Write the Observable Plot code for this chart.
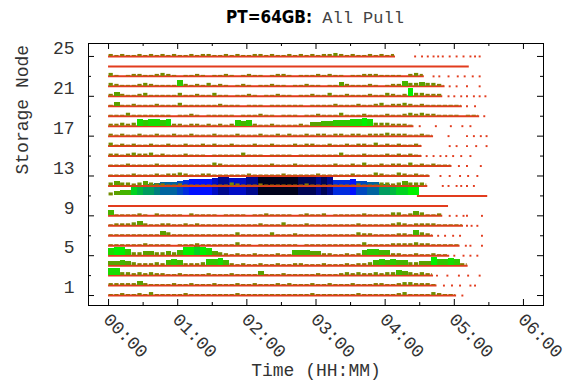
<!DOCTYPE html>
<html><head><meta charset="utf-8">
<script src="https://cdn.jsdelivr.net/npm/d3@7"></script>
<script src="https://cdn.jsdelivr.net/npm/@observablehq/plot@0.6"></script>
<style>
html,body{margin:0;padding:0;background:#fff;overflow:hidden;}
#title{height:30px;width:576px;box-sizing:border-box;padding-left:54px;text-align:center;line-height:34px;white-space:pre;}
#title .a{font-family:"Liberation Sans Narrow","DejaVu Sans Condensed",sans-serif;font-weight:bold;font-size:17px;color:#000;}
#title .b{font-family:"Liberation Mono",monospace;font-size:17px;color:#444;}
</style></head><body>
<div id="title"><span class="a">PT=64GB:</span><span class="b"> All Pull</span></div>
<div id="chart"></div>
<script>
// activity height per node, one value per 5-minute slot (tenths of a row)
const n25 = [2,1,2,1,1,2,1,2,1,2, 1,2,1,1,2,1,2,2,1,1, 2,1,2,1,1,2,2,1,2,1, 1,2,1,2,1,2,1,2,2,3, 2,1,2,1,1,2,1,2,1,2];
const n24 = [];
const n23 = [3,1,0,1,2,2,1,1,2,3, 2,1,0,1,1,2,1,0,1,1, 2,1,0,1,2,1,1,0,1,2, 2,1,0,1,1,1,2,1,2,1, 1,0,1,1,2,2,2,1,1,1, 1,0,2,3,2];
const n22 = [3,2,1,1,1,2,3,2,1,1, 1,1,6,2,1,2,1,3,1,2, 1,0,1,2,1,0,1,1,2,1, 1,0,1,1,2,1,1,0,1,1, 4,2,1,1,1,2,1,0,1,2, 2,5,3,3,4,3,3,2,1];
const n21 = [2,4,2,1,1,2,3,1,1,1, 1,1,3,1,1,2,1,1,3,1, 1,0,1,1,2,1,0,1,1,2, 1,1,0,1,1,2,1,1,3,1, 1,2,1,1,1,2,1,1,3,2, 1,2,8,3,3,2,2,2];
const n20 = [1,4,1,1,2,1,1,1,2,1, 1,1,3,1,1,1,1,1,1,2, 1,1,1,0,1,1,1,0,1,1, 1,1,1,1,0,1,1,1,1,2, 1,1,1,2,1,1,2,3,1,2, 2,3,2,1,2,1,1,1,1,1, 1,1];
const n19 = [1,1,1,3,1,1,1,1,1,1, 1,0,1,1,2,1,0,1,1,1, 1,1,0,1,1,1,2,1,1,0, 1,1,1,0,1,1,2,1,1,1, 3,1,1,1,2,1,1,1,2,1, 1,2,3,2,3,2,2,1,1,1, 1,0,1,1,1];
const n18 = [2,2,3,2,3, 7,6,7,7,6,7, 2,2,1,2,2,1,2,1,2,1,2, 6,5,6, 2,1,1,2,1,1,1,1,2,1, 4,4,5,5, 6,6,6,7,7,8,7, 3,3,3,2,2,2,1];
const n17 = [2,1,2,1,1,2,1,1,2,1, 1,2,1,1,2,1,1,1,2,1, 1,1,2,1,1,1,2,1,1,2, 1,2,1,1,2,1,2,2,1,2, 2,1,2,2,1,2,2,2,3,2, 2,2,1,1,2,1,1];
const n16 = [3,1,2,1,2,1,1,2,1,1, 2,1,1,2,1,1,2,1,2,1, 1,2,1,1,1,2,1,1,2,1, 1,1,2,1,2,2,1,1,2,1, 1,2,1,2,2,1,3,1,2,1, 2,1,1,2,1];
const n15 = [2,2,1,2,3,2,2,3,1,2, 1,1,1,2,1,1,1,0,1,1, 1,1,1,3,1,1,1,0,1,1, 1,1,0,1,1,1,1,1,1,1, 3,1,1,1,2,1,1,1,2,1, 2,1,2,1,1];
const n14 = [1,1,1,2,1,1,1,1,2,1, 1,1,1,1,1,1,1,1,3,2, 1,1,1,1,1,1,1,1,2,1, 1,1,2,1,1,1,1,1,1,2, 1,1,2,1,3,1,1,2,1,2, 2,1,3,1,2,1,2,1,1,1];
const n13 = [1,1,1,1,2,1,1,1,2,1, 2,2,3,2,1,1,2,2,1,1, 1,1,1,1,2,1,1,1,1,1, 2,1,1,1,1,1,2,1,1,1, 1,1,2,1,1,1,3,2,1,1, 3,2,1,2,1,1];
const n12 = [3,4,3,3,2,3,4,3,2,2, 1,1,2,1,1,1,1,1,1,1, 1,3,2,1,1,1,2,1,1,1, 1,1,1,1,2,1,1,1,1,1, 1,1,1,2,1,1,1,3,3,2, 3,4,3,3,3,2];
const n11 = [3,4,5,5, 9, 10, 11,11, 12,13,13,13,14, 15,16,16,16,16,17, 18,18, 17,17,17,18,18, 20,20,20,20,20,20,20, 19,19,19,18,19,18, 15,15,15,16, 14,14,13,13, 11,11,10, 9,9,8,8];
const n10 = [];
const n9  = [5,1,1,1,1,2,1,0,2,1, 1,1,1,0,2,1,1,1,1,0, 1,1,1,1,0,1,1,2,1,1, 1,1,0,1,2,1,1,2,0,1, 1,1,1,1,2,1,1,1,1,3, 3,1,2,4,3,1,1,2];
const n8  = [1,2,2,2,3,4,2,1,1,2, 2,1,1,2,1,2,1,1,1,1, 1,1,1,1,1,1,2,1,1,1, 3,1,1,1,2,1,1,1,1,1, 1,1,1,2,1,1,1,1,1,2, 3,2,1,2,2,2,2,1,1,1, 1,1];
const n7  = [1,1,1,1,1,1,1,1,1,4, 3,1,1,1,1,1,1,1,1,1, 1,1,3,1,1,1,1,1,3,1, 1,1,2,1,1,1,1,1,1,1, 1,1,1,3,2,2,1,1,1,1, 2,2,1,5,3,2,1];
const n6  = [1,1,1,1,1,1,2,1,1,1, 1,0,1,1,1,2,1,1,1,1, 1,1,3,1,1,0,1,1,1,1, 1,1,1,0,1,1,1,1,1,1, 1,1,1,1,3,1,1,1,1,2, 2,2,2,3,2,2,1,1,1,1, 1];
const n5  = [7,8,8,6, 3,3,4,4,3,3,4,3,5, 8,8,9,8,7, 4,3, 2,1,2,1,1,2,1,1,1,2,1,1, 5,5,5,4,4, 2,2,1,1,2,1,2, 5,6,6,5,5, 2,2,1,1,2,1,1,2,1,1,1];
const n4  = [4,4,5,4,3, 2,2,2,3,2, 5,6,5, 2,2,2,3, 6,6,7,5, 2,1,2,1,1,2,1,1,2,1,1,2,2,1,1,1,2,1,1,1,2,1,2,2,3, 5,6,5,6,5,5, 3,3,4,4, 8,6,6,7,6, 2,2];
const n3  = [7,7, 3,3,2,3,2,3,2,2, 1,1,2,1,1,1,1,2,1,1,1,2,1,1,1,1, 4, 1,1,1,2,1,1,1,1,1,2,1,1,1, 2,3,2,3,2,2,3,2,3,3, 5,4, 3,2,3,2,2];
const n2  = [2,2,2,2,2,4,2,1,1,1, 1,2,1,1,2,1,1,1,2,1, 1,1,2,1,1,2,1,1,1,2, 1,2,1,1,1,2,1,1,2,1, 1,1,2,1,1,1,2,2,1,1, 2,3,3,2,2,2,1];
const n1  = [1,1,2,1,1,2,1,3,1,1, 1,1,1,2,1,1,1,1,1,1, 1,1,2,1,1,1,1,1,1,1, 1,1,1,1,1,2,1,1,1,1, 1,1,1,2,1,1,1,1,1,1, 2,3,1,1,1,1,3,2,1,1,1];

// per node 1..25: baseline line start / end (minutes) and trailing sparse samples
const lineStart = [0,0,0,0,0,0,0,0,0,0,268,0,0,0,0,0,0,0,0,0,0,0,0,0,0];
const lineEnd   = [302,285,282,312,296,305,282,308,290,295,329,277,279,298,272,272,282,265,322,307,290,292,274,313,249];
const tailDots = [
  [307],
  [291,298,305,314,318],
  [285,294,304,312,322],
  [],
  [300,308,314,320],
  [310,314,324],
  [286,292,299,305,324],
  [311,315,320],
  [296,302,308,311,324],
  [],
  [],
  [290,295,302,306,311,317],
  [288,296,305,312,320],
  [304,311,323],
  [276,282,288,293,299,306,314],
  [296,302,311,319,328],
  [295,311,317,323,328],
  [270,284,297,307,314],
  [326],
  [311,318],
  [295,300,306,311,317,322,327],
  [296,302,311,322],
  [282,287,295,303,309,316,322],
  [],
  [266,272,277,282,286,290,296,302,308,314,318,322]
];
const activity = [n1,n2,n3,n4,n5,n6,n7,n8,n9,n10,n11,n12,n13,n14,n15,n16,n17,n18,n19,n20,n21,n22,n23,n24,n25];
const STEP = 5;
const xMajor = [0,60,120,180,240,300,360];
const xMinor = [30,90,150,210,270,330];
const yMajor = [1,5,9,13,17,21,25];
const yMinor = [3,7,11,15,19,23];

const RED = "#e23c1e";
const FONT = "Liberation Mono, monospace";
const W = 576, H = 359, ML = 88, MR = 33, MT = 13, MB = 84;
const FW = W - ML - MR, FH = H - MT - MB;

const marks = [];
activity.forEach((vals, k) => {
  const n = k + 1;
  const areaEnd = n === 11 ? vals.length * STEP : lineEnd[k];
  const bars = vals.map((v, i) => ({x1: i * STEP, x2: Math.min(i * STEP + STEP, areaEnd), y1: n, y2: n + v / 10, h: v / 10}))
                   .filter(d => d.h > 0 && d.x2 > d.x1);
  const small = bars.filter(d => d.h <= 0.3), big = bars.filter(d => d.h > 0.3);
  marks.push(Plot.ruleY([{n, s: lineStart[k], e: lineEnd[k]}], {y: "n", x1: "s", x2: "e", stroke: RED, strokeWidth: 2}));
  marks.push(Plot.rect(small, {x1: "x1", x2: "x2", y1: "y1", y2: "y2", fill: "h", insetLeft: 0.5, insetRight: 1}));
  marks.push(Plot.rect(big, {x1: "x1", x2: "x2", y1: "y1", y2: "y2", fill: "h", shapeRendering: "crispEdges"}));
  marks.push(Plot.dot(tailDots[k].map(t => ({t, n})), {x: "t", y: "n", symbol: "square", r: 1.1, fill: RED, stroke: "none"}));
});

const chart = Plot.plot({
  width: W, height: H,
  marginLeft: ML, marginRight: MR, marginTop: MT, marginBottom: MB,
  x: {domain: [-17.4, 377.4], axis: null},
  y: {domain: [0, 26.3], axis: null},
  color: {type: "linear", domain: [0.1, 0.8, 1.6, 2.05], range: ["#a06400", "#00f000", "#0010ff", "#000000"], interpolate: "rgb"},
  style: {background: "#fff"},
  marks: [
    ...marks,
    Plot.ruleX(xMajor, {x: d => d, insetTop: FH - 6, stroke: "#000"}),
    Plot.ruleX(xMajor, {x: d => d, insetBottom: FH - 6, stroke: "#000"}),
    Plot.ruleX(xMinor, {x: d => d, insetTop: FH - 3, stroke: "#000"}),
    Plot.ruleX(xMinor, {x: d => d, insetBottom: FH - 3, stroke: "#000"}),
    Plot.ruleY(yMajor, {y: d => d, insetRight: FW - 6, stroke: "#000"}),
    Plot.ruleY(yMajor, {y: d => d, insetLeft: FW - 6, stroke: "#000"}),
    Plot.ruleY(yMinor, {y: d => d, insetRight: FW - 3, stroke: "#000"}),
    Plot.ruleY(yMinor, {y: d => d, insetLeft: FW - 3, stroke: "#000"}),
    Plot.frame({stroke: "#000", strokeWidth: 1}),
    Plot.text(xMajor, {x: d => d, text: d => String(d / 60).padStart(2, "0") + ":00", frameAnchor: "bottom",
      rotate: 45, textAnchor: "start", lineAnchor: "middle", dx: -2, dy: 11, fontSize: 18, fontFamily: FONT, fill: "#333"}),
    Plot.text(yMajor, {y: d => d, text: d => String(d), frameAnchor: "left", textAnchor: "end", dx: -14, dy: -8,
      fontSize: 18, fontFamily: FONT, fill: "#333"}),
    Plot.text(["Storage Node"], {text: d => d, frameAnchor: "left", rotate: -90, dx: -66, fontSize: 18, fontFamily: FONT, fill: "#333"}),
    Plot.text(["Time (HH:MM)"], {text: d => d, frameAnchor: "bottom", dy: 70, fontSize: 18, fontFamily: FONT, fill: "#333"})
  ]
});
document.getElementById("chart").appendChild(chart);
</script></body></html>
